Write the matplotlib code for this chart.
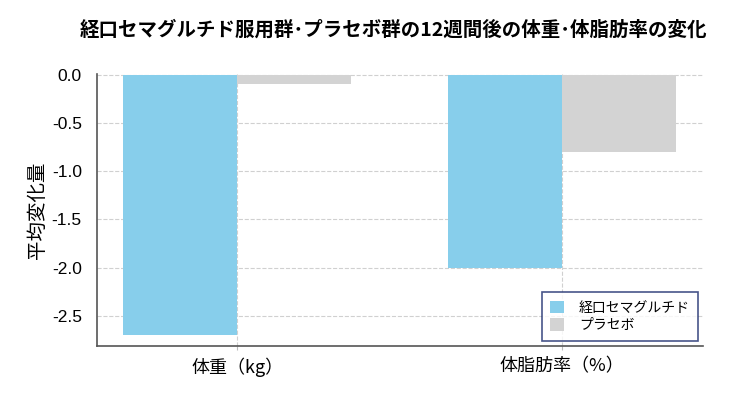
import matplotlib.pyplot as plt
import numpy as np

# data
categories = ['体重（kg）', '体脂肪率（%）']
series_names = ['経口セマグルチド', 'プラセボ']
semaglutide = [-2.7, -2.0]
placebo = [-0.1, -0.8]
yticks = [0.0, -0.5, -1.0, -1.5, -2.0, -2.5]

cjk = ['Noto Sans CJK JP', 'DejaVu Sans']
plt.rcParams['font.family'] = ['Liberation Sans', 'Noto Sans CJK JP']

fig = plt.figure(figsize=(7.47, 3.94), dpi=100)
ax = fig.add_axes([0.130, 0.122, 0.811, 0.691])

x = np.arange(len(categories))
w = 0.35
ax.bar(x - w / 2, semaglutide, w, color='#87CEEB', label=series_names[0], zorder=2)
ax.bar(x + w / 2, placebo, w, color='#D3D3D3', label=series_names[1], zorder=2)

ax.set_xlim(-0.431, 1.434)
ax.set_ylim(-2.81, 0.01)
ax.set_yticks(yticks)
ax.set_yticklabels([f'{v:.1f}' for v in yticks], fontsize=12.5)
ax.set_xticks(x)
ax.set_xticklabels(categories, fontsize=13, family=cjk)

ax.grid(True, linestyle='--', color='#d0d0d0', linewidth=0.8, zorder=0)
ax.set_axisbelow(True)
for s in ['top', 'right']:
    ax.spines[s].set_visible(False)
ax.spines['left'].set_color('#555555')
ax.spines['bottom'].set_color('#555555')
ax.spines['left'].set_linewidth(1.2)
ax.spines['bottom'].set_linewidth(1.2)
ax.tick_params(axis='x', length=3, color='#bbbbbb', pad=5)
ax.tick_params(axis='y', length=0, pad=11)

ax.set_ylabel('平均変化量', fontsize=14, family=cjk, labelpad=3)

fig.suptitle('経口セマグルチド服用群･プラセボ群の12週間後の体重･体脂肪率の変化',
             fontsize=14, fontweight='bold', family=cjk, x=0.527, y=0.95)

leg = ax.legend(loc='lower right', prop={'family': cjk, 'size': 10},
                frameon=True, fancybox=False, borderpad=0.6, handlelength=1.0,
                handleheight=1.0, handletextpad=1.1, labelspacing=0.25,
                bbox_to_anchor=(1.004, -0.006))
leg.get_frame().set_edgecolor('#1a2a6c')
leg.get_frame().set_linewidth(1.2)

fig.savefig('out.png', dpi=100)
